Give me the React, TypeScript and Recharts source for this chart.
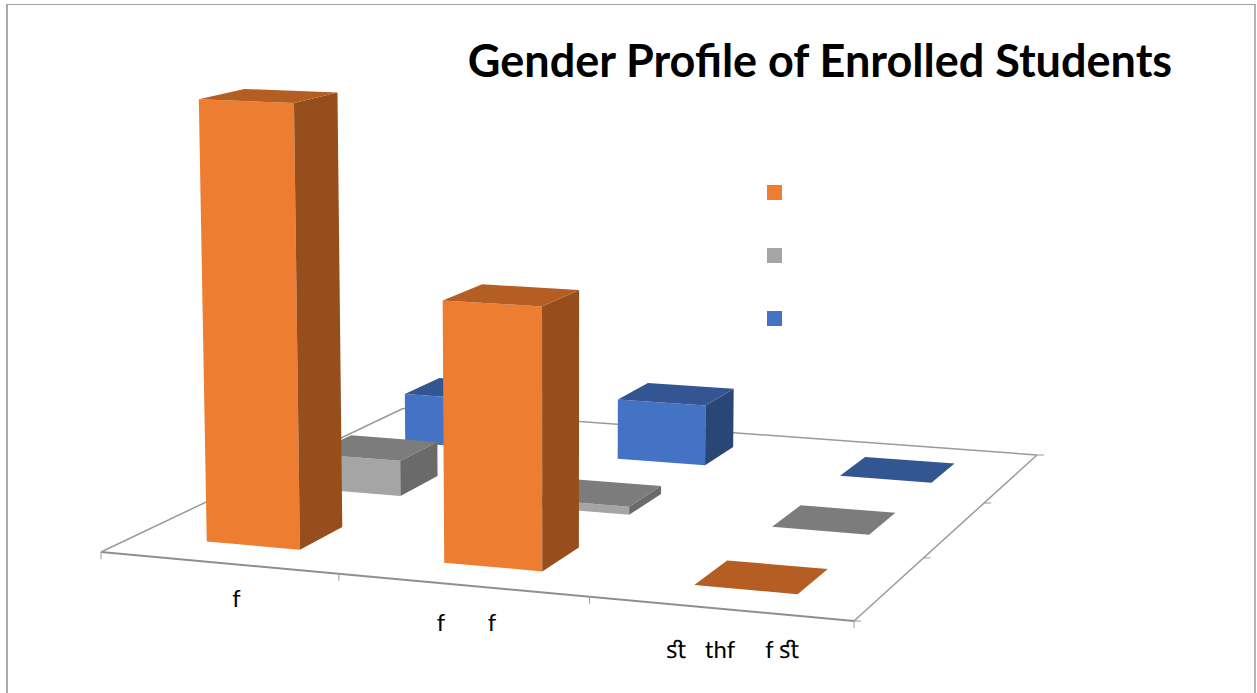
import React from "react";
import { BarChart, Bar, XAxis, YAxis, Legend } from "recharts";

const TITLE = "Gender Profile of Enrolled Students";
const categories = ["f", "f       f", "ﬆ   thf     f ﬆ"];
const seriesFront = [100, 57.8, 0];
const seriesMiddle = [8.4, 1.9, 0];
const seriesBack = [12.4, 14.9, 0];

const chartData = categories.map((category, i) => ({
  category,
  front: seriesFront[i],
  middle: seriesMiddle[i],
  back: seriesBack[i],
}));

const W = 1257;
const H = 693;
const AXIS_H = 20;
const PLOT = { left: 101, top: 47, width: 753, height: 448 };
const MARGIN = {
  left: PLOT.left,
  top: PLOT.top,
  right: W - PLOT.left - PLOT.width,
  bottom: H - PLOT.top - PLOT.height - AXIS_H,
};

// Floor plane projection (unit square to screen)
const G = -0.07676;
const HH = 0.20985;
const A = 687.45;
const B = 386.57;
const C = 101;
const D = 21.33;
const E = -57.78;
const F = 552;
const depthOf = (u: number, v: number) => 1 + G * u + HH * v;
const project = (u: number, v: number): [number, number] => {
  const w = depthOf(u, v);
  return [(A * u + B * v + C) / w, (D * u + E * v + F) / w];
};

const BAR_U_SHIFT = 0.002;
const BAR_DEPTH = 0.135;
const LABEL_NUDGE: [number, number][] = [
  [18, 36],
  [4, 38],
  [13, 41],
];

const styles = {
  front: { face: "#ED7D31", side: "#964E1C", top: "#B55E23", v: 1 / 6 },
  middle: { face: "#A5A5A5", side: "#6A6A6A", top: "#7C7C7C", v: 1 / 2 },
  back: { face: "#4472C4", side: "#2A4677", top: "#335693", v: 5 / 6 },
};
const legendOrder = ["front", "middle", "back"] as const;

const pts = (list: [number, number][]) => list.map((p) => p.join(",")).join(" ");

function Prism(props: any) {
  const { x, width, height, series } = props;
  const s = styles[series as keyof typeof styles];
  const u0 = (x - PLOT.left) / PLOT.width + BAR_U_SHIFT;
  const u1 = u0 + width / PLOT.width;
  const v0 = s.v - BAR_DEPTH / 2;
  const v1 = s.v + BAR_DEPTH / 2;
  const base = (u: number, v: number) => project(u, v);
  const top = (u: number, v: number): [number, number] => {
    const [bx, by] = project(u, v);
    const h = (height || 0) / depthOf(u, v);
    return [bx + 5.1e-5 * (bx - 560) * h, by - h];
  };
  return (
    <g>
      {height > 0 && (
        <>
          <polygon
            fill={s.face}
            points={pts([base(u0, v0), base(u1, v0), top(u1, v0), top(u0, v0)])}
          />
          <polygon
            fill={s.side}
            points={pts([base(u1, v0), base(u1, v1), top(u1, v1), top(u1, v0)])}
          />
        </>
      )}
      <polygon
        fill={s.top}
        points={pts([top(u0, v0), top(u1, v0), top(u1, v1), top(u0, v1)])}
      />
    </g>
  );
}

function Floor() {
  const line = (a: [number, number], b: [number, number], k: string, sw = 1.5, c = "#9a9a9a") => (
    <line key={k} x1={a[0]} y1={a[1]} x2={b[0]} y2={b[1]} stroke={c} strokeWidth={sw} />
  );
  const uTicks = [0, 1 / 3, 2 / 3, 1];
  const vTicks = [0, 1 / 3, 2 / 3, 1];
  return (
    <g>
      {line(project(0, 0), project(1, 0), "fe", 2, "#8f8f8f")}
      {line(project(1, 0), project(1, 1), "re")}
      {line(project(0, 0), project(0, 1), "le")}
      {line(project(0, 1), project(1, 1), "be")}
      {uTicks.map((u) => {
        const p = project(u, 0);
        return line(p, [p[0], p[1] + 7], "u" + u, 1);
      })}
      {vTicks.map((v) => {
        const p = project(1, v);
        return line(p, [p[0] + 7, p[1]], "v" + v, 1);
      })}
    </g>
  );
}

function CategoryTick(props: any) {
  const { index, payload } = props;
  const u = (index + 0.5) / categories.length;
  const [px, py] = project(u, 0);
  const [nx, ny] = LABEL_NUDGE[index] || [0, 0];
  return (
    <text
      x={px + nx}
      y={py + ny + 8}
      textAnchor="middle"
      fontFamily="Lato, sans-serif"
      fontSize={24}
      fill="#000"
      style={{ whiteSpace: "pre" }}
    >
      {payload.value}
    </text>
  );
}

function LegendSquares(props: any) {
  const payload = props.payload || [];
  return (
    <div>
      {legendOrder.map((key) => {
        const item = payload.find((p: any) => p.dataKey === key);
        return (
          <div
            key={key}
            style={{
              width: 15,
              height: 15,
              marginBottom: 48,
              background: item ? item.color : styles[key].face,
            }}
          />
        );
      })}
    </div>
  );
}

export default function App() {
  return (
    <div style={{ position: "absolute", left: 0, top: 0, width: W, height: H, overflow: "hidden", background: "#fff" }}>
      <div
        style={{
          position: "absolute",
          left: 6,
          top: 4,
          width: 1246,
          height: 720,
          borderLeft: "2px solid #aaaaaa",
          borderTop: "1px solid #a0a0a0",
          borderRight: "2px solid #b4b4b4",
        }}
      />
      <div style={{ position: "absolute", left: 0, top: 0 }}>
        <BarChart width={W} height={H} data={chartData} margin={MARGIN} barCategoryGap="30%">
          <Floor />
          <XAxis dataKey="category" xAxisId="a" axisLine={false} tickLine={false} height={AXIS_H} tick={(p: any) => <CategoryTick {...p} />} interval={0} />
          <XAxis dataKey="category" xAxisId="b" hide />
          <XAxis dataKey="category" xAxisId="c" hide />
          <YAxis hide domain={[0, 100]} />
          <Bar dataKey="back" xAxisId="c" fill={styles.back.face} isAnimationActive={false} shape={(p: any) => <Prism {...p} series="back" />} />
          <Bar dataKey="middle" xAxisId="b" fill={styles.middle.face} isAnimationActive={false} shape={(p: any) => <Prism {...p} series="middle" />} />
          <Bar dataKey="front" xAxisId="a" fill={styles.front.face} isAnimationActive={false} shape={(p: any) => <Prism {...p} series="front" />} />
          <Legend
            layout="vertical"
            align="center"
            verticalAlign="middle"
            wrapperStyle={{ position: "absolute", left: 767, top: 185, width: 20 }}
            content={<LegendSquares />}
          />
          <text x={820} y={77} textAnchor="middle" fontFamily="Lato, sans-serif" fontWeight={700} fontSize={45} fill="#000">
            {TITLE}
          </text>
        </BarChart>
      </div>
    </div>
  );
}
